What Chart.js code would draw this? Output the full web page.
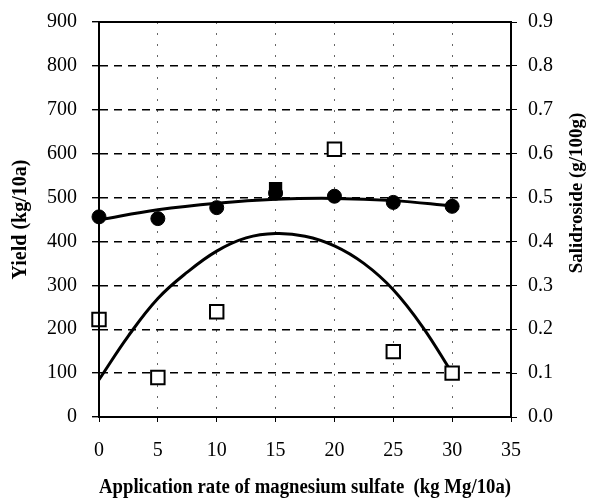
<!DOCTYPE html>
<html>
<head>
<meta charset="utf-8">
<script src="https://cdn.jsdelivr.net/npm/chart.js@4.4.1/dist/chart.umd.min.js"></script>
<style>
  html, body { margin: 0; padding: 0; background: #fff; }
  #wrap { width: 591px; height: 504px; }
</style>
</head>
<body>
<div id="wrap"><canvas id="myChart" width="591" height="504"></canvas></div>
<script>
// magnesium sulfate application rate (kg Mg/10a)
var doses = [0, 5, 10, 15, 20, 25, 30];
// yield, kg/10a (filled circles, left axis)
var yieldKg = [456, 452, 477, 510, 503, 489, 480];
// salidroside content, g/100g (open squares, right axis)
var salidroside = [0.222, 0.09, 0.24, 0.52, 0.61, 0.149, 0.10];

// fitted curves
var yieldFitX = [0, 5, 10, 15, 20, 25, 30];
var yieldFit = [449, 472, 487, 496, 498, 493, 481];
var saliFitX = [0, 2.5, 5, 7.5, 10, 12.5, 15, 17.5, 20, 22.5, 25, 27.5, 30];
var saliFit = [0.085, 0.185, 0.27, 0.33, 0.378, 0.408, 0.418, 0.412, 0.39, 0.35, 0.29, 0.205, 0.10];

var xTicks = [0, 5, 10, 15, 20, 25, 30, 35];
var yTicks = [0, 100, 200, 300, 400, 500, 600, 700, 800, 900];
var y1Ticks = [0, 0.1, 0.2, 0.3, 0.4, 0.5, 0.6, 0.7, 0.8, 0.9];

var serif = "'Liberation Serif', 'Times New Roman', serif";

function pts(xs, ys) {
    return xs.map(function (x, i) { return { x: x, y: ys[i] }; });
}

// the square at 15 sits under the yield dot and prints as a solid blob
var squareFill = doses.map(function (d) { return d === 15 ? '#000' : '#fff'; });
var squareSize = doses.map(function (d) { return d === 15 ? 8 : 9.5; });

// frame around the plot + right-hand title reading bottom to top
var framePlugin = {
    id: 'frame',
    afterDraw: function (chart) {
        var ctx = chart.ctx, a = chart.chartArea;
        ctx.save();
        ctx.strokeStyle = '#000';
        ctx.lineWidth = 2;
        ctx.setLineDash([]);
        ctx.strokeRect(a.left, a.top, a.right - a.left, a.bottom - a.top);
        ctx.translate(577, 193);
        ctx.rotate(-Math.PI / 2);
        ctx.font = 'bold 19px ' + serif;
        ctx.fillStyle = '#000';
        ctx.textAlign = 'center';
        ctx.textBaseline = 'middle';
        ctx.fillText('Salidroside (g/100g)', 0, 0);
        ctx.restore();
    }
};

function noPadY(s) { s.paddingTop = 0; s.paddingBottom = 0; }

var myChart = new Chart(document.getElementById('myChart'), {
    type: 'scatter',
    data: {
        datasets: [{
            label: 'Salidroside',
            data: pts(doses, salidroside),
            yAxisID: 'y1',
            pointStyle: 'rect',
            pointRadius: squareSize,
            pointBorderWidth: 2,
            pointBackgroundColor: squareFill,
            borderColor: '#000',
            clip: false,
            order: 0
        }, {
            label: 'Yield',
            data: pts(doses, yieldKg),
            yAxisID: 'y',
            pointStyle: 'circle',
            pointRadius: 7,
            backgroundColor: '#000',
            borderColor: '#000',
            clip: false,
            order: 1
        }, {
            label: 'Yield fit',
            data: pts(yieldFitX, yieldFit),
            yAxisID: 'y',
            showLine: true,
            tension: 0.4,
            borderColor: '#000',
            borderWidth: 3,
            pointRadius: 0,
            order: 2
        }, {
            label: 'Salidroside fit',
            data: pts(saliFitX, saliFit),
            yAxisID: 'y1',
            showLine: true,
            tension: 0.4,
            borderColor: '#000',
            borderWidth: 3,
            pointRadius: 0,
            order: 3
        }]
    },
    options: {
        responsive: false,
        animation: false,
        layout: { padding: { top: 22, right: 0, left: 0, bottom: 0 } },
        plugins: {
            legend: { display: false },
            tooltip: { enabled: false }
        },
        scales: {
            x: {
                type: 'linear',
                min: 0,
                max: 35,
                afterBuildTicks: function (s) { s.ticks = xTicks.map(function (v) { return { value: v }; }); },
                afterFit: function (s) { s.height = 87; s.paddingLeft = 0; s.paddingRight = 0; },
                grid: { color: '#666', lineWidth: 1, drawTicks: true, tickLength: 5, tickColor: '#000' },
                border: { display: true, color: '#000', width: 2, dash: [2, 9] },
                ticks: { color: '#000', font: { family: serif, size: 20 }, padding: 17 },
                title: {
                    display: true,
                    text: 'Application rate of magnesium sulfate  (kg Mg/10a)',
                    color: '#000',
                    font: { family: serif, size: 20, weight: 'bold' },
                    padding: { top: 4 }
                }
            },
            y: {
                position: 'left',
                min: 0,
                max: 900,
                afterBuildTicks: function (s) { s.ticks = yTicks.map(function (v) { return { value: v }; }); },
                afterFit: function (s) { s.width = 99; noPadY(s); },
                grid: { color: '#000', lineWidth: 1.4, drawTicks: true, tickLength: 7, tickColor: '#000' },
                border: { display: true, color: '#000', width: 2, dash: [8, 6] },
                ticks: { color: '#000', font: { family: serif, size: 20 }, padding: 15 },
                title: {
                    display: true,
                    text: 'Yield (kg/10a)',
                    color: '#000',
                    font: { family: serif, size: 20, weight: 'bold' },
                    padding: { top: 9, bottom: 0 }
                }
            },
            y1: {
                position: 'right',
                min: 0,
                max: 0.9,
                afterBuildTicks: function (s) { s.ticks = y1Ticks.map(function (v) { return { value: v }; }); },
                afterFit: function (s) { s.width = 80; noPadY(s); },
                grid: { drawOnChartArea: false, drawTicks: true, tickLength: 6, tickColor: '#000' },
                border: { display: true, color: '#000', width: 2 },
                ticks: {
                    color: '#000',
                    font: { family: serif, size: 20 },
                    padding: 11,
                    callback: function (v) { return v.toFixed(1); }
                }
            }
        }
    },
    plugins: [framePlugin]
});
</script>
</body>
</html>
